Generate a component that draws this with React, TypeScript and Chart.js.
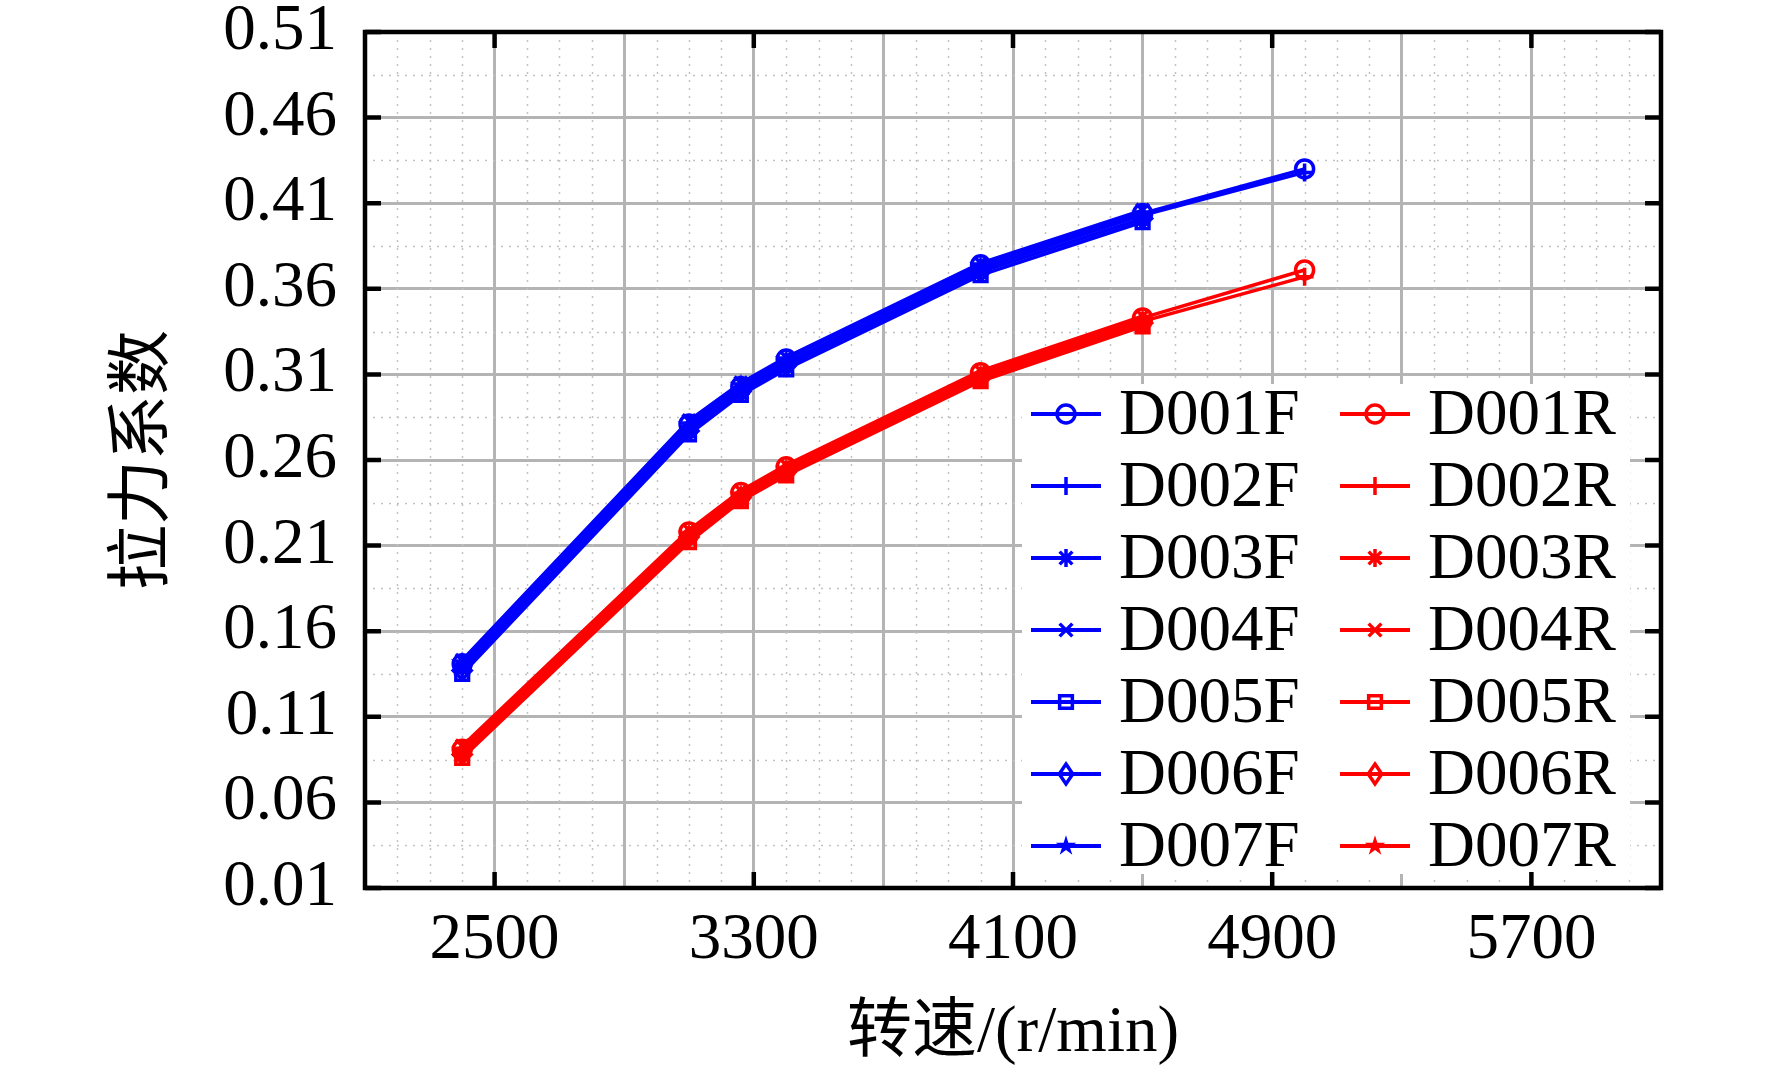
import { useEffect, useRef } from "react"
import { Chart, registerables } from "chart.js"

Chart.register(...registerables)

// rotational speed (r/min)
const SPEED = [2400, 3100, 3260, 3400, 4000, 4500, 5000]

// pull coefficient, front series
const D001F = [0.141, 0.281, 0.303, 0.319, 0.374, 0.404, 0.43]
const D002F = [0.14, 0.279, 0.301, 0.317, 0.372, 0.403, 0.428]
const D003F = [0.138, 0.277, 0.299, 0.315, 0.37, 0.401]
const D004F = [0.143, 0.283, 0.305, 0.32, 0.375, 0.406]
const D005F = [0.135, 0.275, 0.298, 0.313, 0.368, 0.399]
const D006F = [0.137, 0.277, 0.3, 0.315, 0.37, 0.401]
const D007F = [0.142, 0.281, 0.304, 0.319, 0.374, 0.404]

// pull coefficient, rear series
const D001R = [0.091, 0.218, 0.241, 0.256, 0.311, 0.343, 0.371]
const D002R = [0.09, 0.216, 0.239, 0.254, 0.309, 0.341, 0.367]
const D003R = [0.088, 0.214, 0.237, 0.252, 0.307, 0.339]
const D004R = [0.093, 0.219, 0.242, 0.257, 0.312, 0.344]
const D005R = [0.086, 0.212, 0.236, 0.251, 0.306, 0.338]
const D006R = [0.088, 0.215, 0.238, 0.253, 0.308, 0.34]
const D007R = [0.091, 0.217, 0.24, 0.255, 0.31, 0.342]

const F_NAMES = ["D001F", "D002F", "D003F", "D004F", "D005F", "D006F", "D007F"]
const R_NAMES = ["D001R", "D002R", "D003R", "D004R", "D005R", "D006R", "D007R"]
const F_VALUES = [D001F, D002F, D003F, D004F, D005F, D006F, D007F]
const R_VALUES = [D001R, D002R, D003R, D004R, D005R, D006R, D007R]
const MARKERS = ["circle", "cross", "star", "crossRot", "rect", "rectRot", "pentagram"]

const X_TICKS = [2100, 2500, 2900, 3300, 3700, 4100, 4500, 4900, 5300, 5700, 6100]
const X_LABELS = [2500, 3300, 4100, 4900, 5700]
const Y_TICKS = [0.01, 0.06, 0.11, 0.16, 0.21, 0.26, 0.31, 0.36, 0.41, 0.46, 0.51]

const BLUE = "#0000ff"
const RED = "#ff0000"
const FONT = '"Liberation Serif", "Times New Roman", "Noto Sans CJK SC", serif'

function drawMarker(ctx: CanvasRenderingContext2D, style: string, x: number, y: number, r: number, color: string) {
  ctx.save()
  ctx.strokeStyle = color
  ctx.fillStyle = color
  ctx.lineWidth = 3.5
  ctx.setLineDash([])
  ctx.beginPath()
  const d = r * Math.SQRT1_2
  switch (style) {
    case "circle":
      ctx.arc(x, y, r, 0, Math.PI * 2)
      ctx.stroke()
      break
    case "cross":
      ctx.moveTo(x - r, y)
      ctx.lineTo(x + r, y)
      ctx.moveTo(x, y - r)
      ctx.lineTo(x, y + r)
      ctx.stroke()
      break
    case "star":
      ctx.moveTo(x - r, y)
      ctx.lineTo(x + r, y)
      ctx.moveTo(x, y - r)
      ctx.lineTo(x, y + r)
      ctx.moveTo(x - d, y - d)
      ctx.lineTo(x + d, y + d)
      ctx.moveTo(x - d, y + d)
      ctx.lineTo(x + d, y - d)
      ctx.stroke()
      break
    case "crossRot":
      ctx.moveTo(x - d, y - d)
      ctx.lineTo(x + d, y + d)
      ctx.moveTo(x - d, y + d)
      ctx.lineTo(x + d, y - d)
      ctx.stroke()
      break
    case "rect":
      ctx.rect(x - d, y - d, 2 * d, 2 * d)
      ctx.stroke()
      break
    case "rectRot":
      ctx.moveTo(x, y - r * 1.1)
      ctx.lineTo(x + r * 0.75, y)
      ctx.lineTo(x, y + r * 1.1)
      ctx.lineTo(x - r * 0.75, y)
      ctx.closePath()
      ctx.stroke()
      break
    case "pentagram":
      for (let k = 0; k < 10; k++) {
        const rad = k % 2 ? r * 0.45 : r * 1.2
        const ang = -Math.PI / 2 + (k * Math.PI) / 5
        const px = x + rad * Math.cos(ang)
        const py = y + rad * Math.sin(ang)
        if (k === 0) ctx.moveTo(px, py)
        else ctx.lineTo(px, py)
      }
      ctx.closePath()
      ctx.fill()
      break
  }
  ctx.restore()
}

function makeStar(color: string, r: number) {
  const c = document.createElement("canvas")
  const s = Math.ceil(r * 2.8)
  c.width = s
  c.height = s
  const g = c.getContext("2d")
  if (g) drawMarker(g, "pentagram", s / 2, s / 2 + 1, r, color)
  return c
}

// minor dotted grid, in-plot legend and frame
const decorPlugin = {
  id: "decor",
  beforeDatasetsDraw(chart: any) {
    const { ctx, chartArea: a, scales } = chart
    const x = scales.x
    const y = scales.y
    ctx.save()
    ctx.strokeStyle = "#c2c2c2"
    ctx.lineWidth = 1.5
    ctx.setLineDash([2, 6])
    for (let i = 0; i < X_TICKS.length - 1; i++) {
      for (let k = 1; k < 4; k++) {
        const v = X_TICKS[i] + ((X_TICKS[i + 1] - X_TICKS[i]) * k) / 4
        const px = Math.round(x.getPixelForValue(v)) + 0.5
        ctx.beginPath()
        ctx.moveTo(px, a.top)
        ctx.lineTo(px, a.bottom)
        ctx.stroke()
      }
    }
    for (let i = 0; i < Y_TICKS.length - 1; i++) {
      const v = (Y_TICKS[i] + Y_TICKS[i + 1]) / 2
      const py = Math.round(y.getPixelForValue(v)) + 0.5
      ctx.beginPath()
      ctx.moveTo(a.left, py)
      ctx.lineTo(a.right, py)
      ctx.stroke()
    }
    ctx.restore()
  },
  afterDatasetsDraw(chart: any) {
    const { ctx } = chart
    ctx.save()
    ctx.fillStyle = "#ffffff"
    ctx.fillRect(1022, 384, 608, 490)
    ctx.font = `65px ${FONT}`
    ctx.textBaseline = "middle"
    ctx.textAlign = "left"
    const cols = [
      { names: F_NAMES, color: BLUE, x0: 1031 },
      { names: R_NAMES, color: RED, x0: 1340 },
    ]
    cols.forEach((col) => {
      col.names.forEach((name, i) => {
        const yy = 414 + i * 72
        ctx.strokeStyle = col.color
        ctx.lineWidth = 4
        ctx.setLineDash([])
        ctx.beginPath()
        ctx.moveTo(col.x0, yy)
        ctx.lineTo(col.x0 + 70, yy)
        ctx.stroke()
        drawMarker(ctx, MARKERS[i], col.x0 + 35, yy, 9, col.color)
        ctx.fillStyle = "#000"
        ctx.fillText(name, col.x0 + 88, yy + 3)
      })
    })
    ctx.restore()
  },
  afterDraw(chart: any) {
    const { ctx, chartArea: a, scales } = chart
    const x = scales.x
    const y = scales.y
    const tl = 16
    ctx.save()
    ctx.strokeStyle = "#000"
    ctx.lineWidth = 4.5
    ctx.setLineDash([])
    ctx.beginPath()
    Y_TICKS.forEach((v) => {
      const py = y.getPixelForValue(v)
      ctx.moveTo(a.left, py)
      ctx.lineTo(a.left + tl, py)
      ctx.moveTo(a.right, py)
      ctx.lineTo(a.right - tl, py)
    })
    X_LABELS.forEach((v) => {
      const px = x.getPixelForValue(v)
      ctx.moveTo(px, a.bottom)
      ctx.lineTo(px, a.bottom - tl)
      ctx.moveTo(px, a.top)
      ctx.lineTo(px, a.top + tl)
    })
    ctx.stroke()
    ctx.strokeRect(a.left, a.top, a.right - a.left, a.bottom - a.top)
    ctx.restore()
  },
}

export default function App() {
  const chartRef = useRef<HTMLCanvasElement>(null)
  const chartInstance = useRef<Chart | null>(null)

  useEffect(() => {
    if (!chartRef.current) return
    if (chartInstance.current) chartInstance.current.destroy()

    const ctx = chartRef.current.getContext("2d")
    if (!ctx) return

    const makeSets = (names: string[], values: number[][], color: string) =>
      names.map((name, i) => ({
        label: name,
        data: values[i].map((v, j) => ({ x: SPEED[j], y: v })),
        borderColor: color,
        backgroundColor: color,
        borderWidth: 3.5,
        pointStyle: MARKERS[i] === "pentagram" ? makeStar(color, 10) : MARKERS[i],
        pointRadius: 9,
        pointBorderWidth: 3.5,
        pointBorderColor: color,
        pointBackgroundColor: "rgba(0,0,0,0)",
        tension: 0,
        order: 6 - i,
      }))

    const tickFont = { family: FONT, size: 65 }

    chartInstance.current = new Chart(ctx, {
      type: "line",
      data: {
        datasets: [...makeSets(F_NAMES, F_VALUES, BLUE), ...makeSets(R_NAMES, R_VALUES, RED)] as any,
      },
      options: {
        responsive: true,
        maintainAspectRatio: false,
        animation: false,
        events: [],
        layout: { padding: { top: 32, right: 111, left: 0, bottom: 0 } },
        plugins: {
          legend: { display: false },
          tooltip: { enabled: false },
        },
        scales: {
          x: {
            type: "linear",
            min: 2100,
            max: 6100,
            afterBuildTicks: (s: any) => {
              s.ticks = X_TICKS.map((v) => ({ value: v }))
            },
            afterFit: (s: any) => {
              s.height = 188
              s.paddingLeft = 0
              s.paddingRight = 0
            },
            grid: { color: "#b4b4b4", lineWidth: 3, drawTicks: false },
            border: { display: false },
            ticks: {
              autoSkip: false,
              maxRotation: 0,
              padding: 14,
              color: "#000",
              font: tickFont,
              callback: (v: any) => (X_LABELS.includes(Number(v)) ? String(v) : ""),
            },
            title: {
              display: true,
              text: "转速/(r/min)",
              color: "#000",
              font: tickFont,
              padding: { top: 0, bottom: 3 },
            },
          },
          y: {
            type: "linear",
            min: 0.01,
            max: 0.51,
            afterBuildTicks: (s: any) => {
              s.ticks = Y_TICKS.map((v) => ({ value: v }))
            },
            afterFit: (s: any) => {
              s.width = 365
              s.paddingTop = 0
              s.paddingBottom = 0
            },
            grid: { color: "#b4b4b4", lineWidth: 3, drawTicks: false },
            border: { display: false },
            ticks: {
              autoSkip: false,
              padding: 28,
              color: "#000",
              font: tickFont,
              callback: (v: any) => Number(v).toFixed(2),
            },
            title: {
              display: true,
              text: "拉力系数",
              color: "#000",
              font: tickFont,
              padding: { top: 106, bottom: 0 },
            },
          },
        },
      },
      plugins: [decorPlugin],
    })

    return () => {
      if (chartInstance.current) {
        chartInstance.current.destroy()
        chartInstance.current = null
      }
    }
  }, [])

  return (
    <div style={{ position: "fixed", left: 0, top: 0, width: 1772, height: 1076, background: "#fff" }}>
      <canvas ref={chartRef} />
    </div>
  )
}
